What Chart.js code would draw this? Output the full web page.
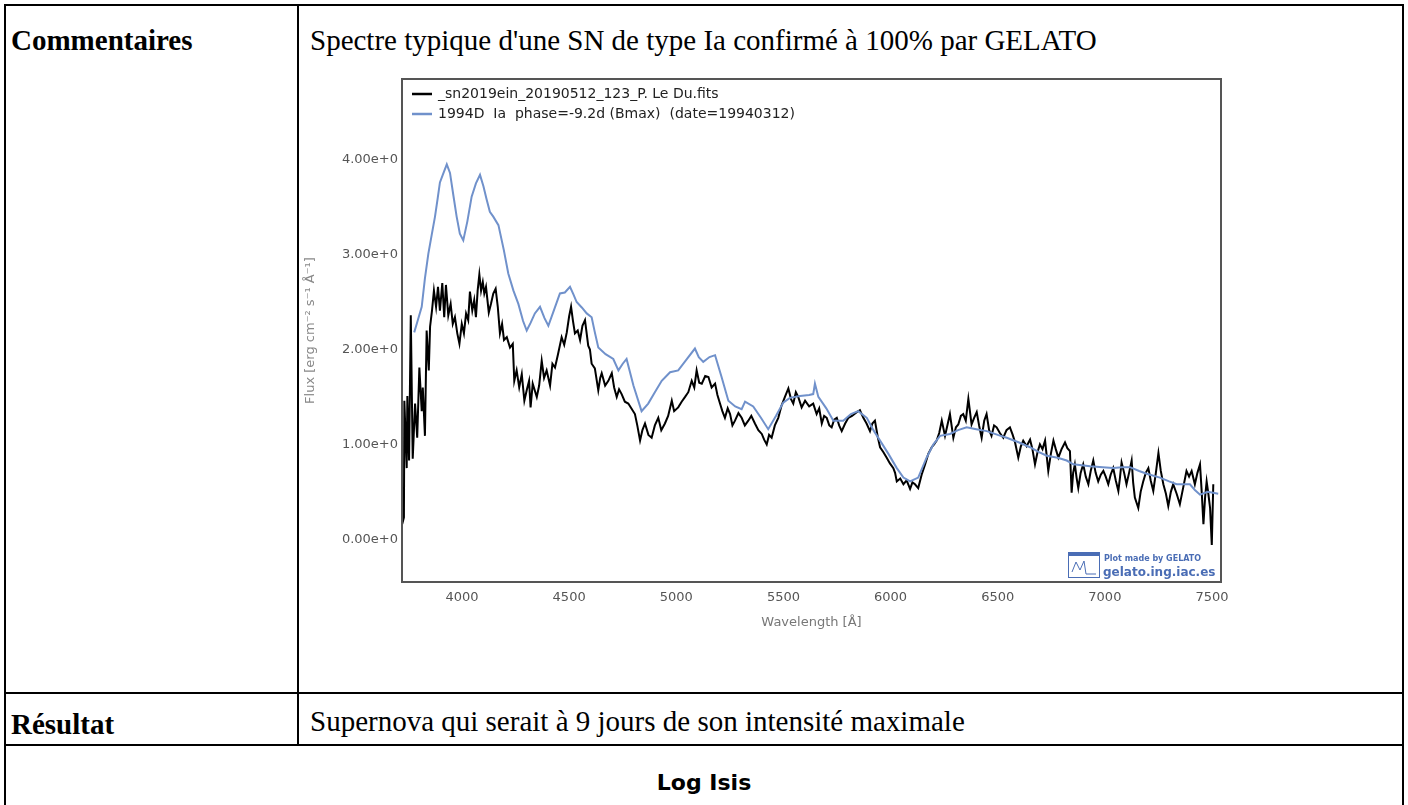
<!DOCTYPE html>
<html>
<head>
<meta charset="utf-8">
<script src="https://cdn.jsdelivr.net/npm/chart.js@4.4.1/dist/chart.umd.min.js"></script>
<style>
  html, body { margin: 0; padding: 0; background: #fff; }
  body { width: 1408px; height: 805px; position: relative; overflow: hidden; font-family: "Liberation Serif", "Times New Roman", serif; }
  .line { position: absolute; background: #000; }
  .txt { position: absolute; font-size: 29px; line-height: 29px; white-space: nowrap; color: #000; }
  .bold { font-weight: bold; }
  #logIsis { position: absolute; left: 4px; width: 1400px; top: 770px; text-align: center; font-family: "DejaVu Sans", sans-serif; font-weight: bold; font-size: 22px; line-height: 26px; }
  #chartBox { position: absolute; left: 300px; top: 70px; width: 930px; height: 570px; }
</style>
</head>
<body>
  <!-- table lines -->
  <div class="line" style="left:4px; top:4px; width:1400px; height:2px;"></div>
  <div class="line" style="left:4px; top:4px; width:2px; height:801px;"></div>
  <div class="line" style="left:1402px; top:4px; width:2px; height:801px;"></div>
  <div class="line" style="left:297px; top:4px; width:2px; height:741px;"></div>
  <div class="line" style="left:4px; top:692px; width:1400px; height:2px;"></div>
  <div class="line" style="left:4px; top:744px; width:1400px; height:2px;"></div>

  <div class="txt bold" style="left:11px; top:26px;">Commentaires</div>
  <div class="txt" style="left:310px; top:26px;">Spectre typique d'une SN de type Ia confirmé à 100% par GELATO</div>
  <div class="txt bold" style="left:11px; top:710px;">Résultat</div>
  <div class="txt" style="left:310px; top:707px;">Supernova qui serait à 9 jours de son intensité maximale</div>
  <div id="logIsis">Log Isis</div>

  <div id="chartBox"><canvas id="spectrum"></canvas></div>

<script>
// series labels (legend)
const seriesLabels = [
    '_sn2019ein_20190512_123_P. Le Du.fits',
    '1994D  Ia  phase=-9.2d (Bmax)  (date=19940312)'
];

// observed spectrum (black)
const blackWave = [3721, 3729, 3731, 3742, 3745, 3753, 3761, 3770, 3781, 3791, 3801, 3812, 3817, 3827, 3835, 3845,
    3851, 3860, 3869, 3879, 3888, 3897, 3908, 3917, 3925, 3936, 3947, 3957, 3967, 3978, 3988, 3999,
    4009, 4019, 4029, 4037, 4048, 4057, 4065, 4073, 4081, 4089, 4097, 4104, 4112, 4125, 4135, 4146,
    4157, 4167, 4177, 4187, 4196, 4209, 4224, 4237, 4244, 4255, 4267, 4279, 4291, 4302, 4313, 4320,
    4330, 4349, 4360, 4372, 4383, 4395, 4411, 4422, 4434, 4448, 4465, 4477, 4489, 4500, 4509, 4518,
    4527, 4540, 4551, 4562, 4574, 4589, 4597, 4605, 4620, 4636, 4645, 4652, 4668, 4683, 4699, 4710,
    4722, 4733, 4745, 4760, 4776, 4790, 4807, 4818, 4831, 4842, 4854, 4870, 4885, 4900, 4916, 4930,
    4947, 4962, 4979, 4990, 5009, 5025, 5041, 5056, 5072, 5084, 5095, 5107, 5119, 5135, 5150, 5165,
    5181, 5192, 5204, 5215, 5227, 5240, 5251, 5262, 5274, 5290, 5305, 5320, 5336, 5350, 5367, 5383,
    5399, 5410, 5422, 5433, 5445, 5460, 5476, 5490, 5507, 5523, 5535, 5546, 5558, 5569, 5585, 5601,
    5620, 5639, 5655, 5667, 5679, 5690, 5702, 5714, 5725, 5737, 5749, 5760, 5772, 5788, 5803, 5820,
    5842, 5857, 5873, 5888, 5904, 5915, 5927, 5940, 5951, 5966, 5982, 5997, 6013, 6021, 6029, 6045,
    6060, 6075, 6091, 6102, 6114, 6129, 6145, 6161, 6176, 6192, 6203, 6215, 6227, 6239, 6254, 6265,
    6277, 6293, 6305, 6316, 6328, 6339, 6351, 6363, 6378, 6390, 6402, 6413, 6425, 6437, 6448, 6460,
    6471, 6483, 6495, 6510, 6526, 6541, 6557, 6570, 6581, 6596, 6608, 6619, 6635, 6651, 6662, 6674,
    6686, 6697, 6709, 6721, 6736, 6748, 6760, 6771, 6783, 6798, 6814, 6825, 6837, 6845, 6852, 6860,
    6868, 6876, 6887, 6899, 6911, 6923, 6934, 6946, 6957, 6969, 6981, 6993, 7004, 7016, 7027, 7039,
    7051, 7063, 7070, 7078, 7090, 7101, 7113, 7125, 7132, 7140, 7156, 7167, 7179, 7191, 7203, 7214,
    7226, 7238, 7250, 7261, 7273, 7285, 7296, 7308, 7319, 7335, 7350, 7366, 7381, 7393, 7405, 7420,
    7432, 7444, 7452, 7460, 7468, 7475, 7483, 7491, 7499, 7506];
const blackFlux = [0.16, 0.23, 1.46, 0.75, 1.51, 0.83, 2.36, 0.85, 1.43, 1.07, 1.81, 1.35, 1.60, 1.09, 2.20, 1.78,
    2.24, 2.41, 2.62, 2.45, 2.66, 2.41, 2.70, 2.34, 2.68, 2.36, 2.48, 2.27, 2.34, 2.17, 2.06, 2.27,
    2.17, 2.38, 2.31, 2.61, 2.41, 2.52, 2.34, 2.62, 2.79, 2.62, 2.71, 2.59, 2.66, 2.39, 2.48, 2.59,
    2.64, 2.45, 2.17, 2.27, 2.10, 2.13, 2.02, 2.06, 1.67, 1.78, 1.60, 1.74, 1.46, 1.57, 1.67, 1.39,
    1.64, 1.50, 1.62, 1.88, 1.70, 1.78, 1.62, 1.85, 1.81, 1.95, 2.13, 2.05, 2.18, 2.35, 2.45, 2.30,
    2.17, 2.20, 2.10, 2.25, 2.31, 2.04, 2.00, 1.85, 1.80, 1.57, 1.70, 1.75, 1.62, 1.67, 1.75, 1.60,
    1.50, 1.58, 1.53, 1.45, 1.43, 1.38, 1.32, 1.20, 1.04, 1.15, 1.22, 1.10, 1.07, 1.20, 1.28, 1.15,
    1.22, 1.30, 1.46, 1.35, 1.39, 1.45, 1.50, 1.55, 1.67, 1.60, 1.78, 1.65, 1.64, 1.72, 1.71, 1.60,
    1.64, 1.52, 1.43, 1.35, 1.28, 1.38, 1.32, 1.20, 1.25, 1.33, 1.28, 1.20, 1.25, 1.30, 1.22, 1.15,
    1.11, 1.05, 1.00, 1.10, 1.07, 1.20, 1.28, 1.40, 1.50, 1.59, 1.48, 1.43, 1.55, 1.50, 1.39, 1.46,
    1.40, 1.43, 1.32, 1.38, 1.22, 1.30, 1.28, 1.20, 1.18, 1.26, 1.28, 1.20, 1.14, 1.22, 1.28, 1.30,
    1.34, 1.36, 1.28, 1.22, 1.14, 1.22, 1.25, 1.08, 0.97, 0.92, 0.86, 0.80, 0.75, 0.70, 0.61, 0.64,
    0.58, 0.62, 0.53, 0.60, 0.58, 0.54, 0.68, 0.79, 0.90, 0.97, 1.00, 1.04, 1.12, 1.25, 1.09, 1.20,
    1.32, 1.07, 1.18, 1.21, 1.30, 1.32, 1.25, 1.48, 1.21, 1.28, 1.34, 1.20, 1.07, 1.25, 1.32, 1.15,
    1.09, 1.20, 1.18, 1.12, 1.07, 1.15, 1.18, 1.10, 1.02, 0.86, 0.98, 1.04, 0.98, 1.05, 0.95, 0.79,
    0.92, 1.00, 0.95, 1.04, 0.72, 0.90, 1.04, 0.95, 0.86, 0.95, 1.02, 0.96, 0.93, 0.49, 0.70, 0.79,
    0.65, 0.54, 0.70, 0.79, 0.66, 0.58, 0.72, 0.83, 0.70, 0.61, 0.68, 0.72, 0.66, 0.58, 0.68, 0.75,
    0.62, 0.51, 0.64, 0.81, 0.70, 0.58, 0.70, 0.83, 0.60, 0.44, 0.33, 0.50, 0.61, 0.70, 0.75, 0.62,
    0.51, 0.70, 0.91, 0.72, 0.58, 0.48, 0.35, 0.50, 0.58, 0.48, 0.37, 0.55, 0.72, 0.66, 0.72, 0.58,
    0.70, 0.79, 0.50, 0.16, 0.45, 0.61, 0.48, 0.33, -0.06, 0.58];

// template SN 1994D (blue)
const blueWave = [3777, 3790, 3812, 3827, 3843, 3858, 3874, 3887, 3897, 3912, 3929, 3944, 3960, 3975, 3990, 4006,
    4025, 4045, 4065, 4084, 4100, 4115, 4130, 4146, 4170, 4195, 4216, 4240, 4263, 4285, 4302, 4320,
    4340, 4364, 4385, 4403, 4430, 4457, 4480, 4504, 4520, 4535, 4560, 4582, 4605, 4620, 4636, 4670,
    4706, 4730, 4750, 4768, 4800, 4838, 4869, 4900, 4932, 4971, 5009, 5050, 5087, 5105, 5126, 5155,
    5181, 5210, 5243, 5275, 5305, 5321, 5359, 5395, 5429, 5465, 5499, 5530, 5577, 5620, 5639, 5647,
    5663, 5700, 5733, 5779, 5815, 5849, 5889, 5920, 5951, 5990, 6029, 6060, 6091, 6129, 6168, 6200,
    6231, 6277, 6315, 6355, 6400, 6449, 6500, 6542, 6600, 6651, 6690, 6729, 6780, 6822, 6853, 6931,
    6990, 7039, 7080, 7117, 7160, 7195, 7257, 7300, 7335, 7397, 7420, 7444, 7480, 7529];
const blueFlux = [2.18, 2.28, 2.45, 2.75, 3.01, 3.20, 3.40, 3.60, 3.76, 3.85, 3.95, 3.86, 3.62, 3.40, 3.22, 3.15,
    3.35, 3.61, 3.75, 3.84, 3.72, 3.58, 3.45, 3.40, 3.31, 3.05, 2.80, 2.62, 2.48, 2.30, 2.20, 2.28,
    2.38, 2.45, 2.33, 2.25, 2.42, 2.59, 2.60, 2.66, 2.58, 2.50, 2.44, 2.38, 2.34, 2.18, 2.02, 1.95,
    1.90, 1.78, 1.85, 1.90, 1.62, 1.35, 1.43, 1.55, 1.67, 1.76, 1.78, 1.90, 2.01, 1.92, 1.87, 1.92,
    1.94, 1.72, 1.46, 1.40, 1.37, 1.45, 1.40, 1.28, 1.16, 1.30, 1.44, 1.49, 1.51, 1.52, 1.53, 1.64,
    1.50, 1.38, 1.25, 1.25, 1.32, 1.35, 1.28, 1.15, 1.04, 0.90, 0.75, 0.65, 0.61, 0.65, 0.86, 1.00,
    1.09, 1.11, 1.15, 1.18, 1.16, 1.14, 1.10, 1.07, 1.02, 0.97, 0.92, 0.88, 0.86, 0.83, 0.79, 0.77,
    0.76, 0.75, 0.76, 0.76, 0.72, 0.69, 0.65, 0.61, 0.58, 0.58, 0.52, 0.47, 0.50, 0.48];

// axes
const xTickValues = [4000, 4500, 5000, 5500, 6000, 6500, 7000, 7500];
const yTickValues = [0, 1, 2, 3, 4];
const yTickLabels = ['0.00e+0', '1.00e+0', '2.00e+0', '3.00e+0', '4.00e+0'];

const BLUE = '#7091cb';
const TICK_FONT = { family: 'DejaVu Sans', size: 13 };

function toPoints(xs, ys) {
    return xs.map((x, i) => ({ x: x, y: ys[i] }));
}

// frame around the plot area, legend inside it, and the GELATO credit
const framePlugin = {
    id: 'frame',
    afterDraw(chart) {
        const { ctx, chartArea: a } = chart;
        ctx.save();
        ctx.strokeStyle = '#555';
        ctx.lineWidth = 2;
        ctx.strokeRect(a.left, a.top, a.right - a.left, a.bottom - a.top);

        // legend
        ctx.font = '14px "DejaVu Sans"';
        ctx.textBaseline = 'middle';
        chart.data.datasets.forEach((ds, i) => {
            const y = a.top + 15 + i * 20;
            ctx.strokeStyle = ds.borderColor;
            ctx.lineWidth = 2.5;
            ctx.beginPath();
            ctx.moveTo(a.left + 10, y);
            ctx.lineTo(a.left + 30, y);
            ctx.stroke();
            ctx.fillStyle = '#222';
            ctx.fillText(ds.label, a.left + 36, y);
        });

        // credit box bottom right
        const bx = a.right - 153, by = a.bottom - 30;
        ctx.strokeStyle = '#4a6db5';
        ctx.lineWidth = 1;
        ctx.strokeRect(bx + 0.5, by + 0.5, 31, 25);
        ctx.fillStyle = '#4a6db5';
        ctx.fillRect(bx, by, 32, 4);
        ctx.beginPath();
        ctx.moveTo(bx + 4, by + 20);
        ctx.lineTo(bx + 8, by + 10);
        ctx.lineTo(bx + 12, by + 18);
        ctx.lineTo(bx + 16, by + 9);
        ctx.lineTo(bx + 18, by + 22);
        ctx.lineTo(bx + 28, by + 22);
        ctx.stroke();
        ctx.textBaseline = 'alphabetic';
        ctx.font = 'bold 8px "DejaVu Sans"';
        ctx.fillText('Plot made by GELATO', bx + 36, by + 9);
        ctx.font = 'bold 12px "DejaVu Sans"';
        ctx.fillText('gelato.ing.iac.es', bx + 35, by + 24);
        ctx.restore();
    }
};

const ctx = document.getElementById('spectrum').getContext('2d');
new Chart(ctx, {
    type: 'line',
    data: {
        datasets: [{
            label: seriesLabels[0],
            data: toPoints(blackWave, blackFlux),
            borderColor: '#000',
            borderWidth: 2,
            pointRadius: 0,
            tension: 0,
            order: 1
        }, {
            label: seriesLabels[1],
            data: toPoints(blueWave, blueFlux),
            borderColor: BLUE,
            borderWidth: 2,
            pointRadius: 0,
            tension: 0,
            order: 0
        }]
    },
    options: {
        responsive: true,
        maintainAspectRatio: false,
        animation: false,
        layout: { padding: { top: 9, right: 9, left: 0, bottom: 0 } },
        plugins: { legend: { display: false }, tooltip: { enabled: false } },
        scales: {
            x: {
                type: 'linear',
                min: 3720,
                max: 7542,
                grid: { display: false, drawTicks: false },
                border: { display: false },
                afterBuildTicks: s => { s.ticks = xTickValues.map(v => ({ value: v })); },
                afterFit: s => { s.height = 58; s.paddingLeft = 0; s.paddingRight = 0; },
                ticks: { font: TICK_FONT, color: '#555', padding: 8, maxRotation: 0, callback: v => String(v) },
                title: { display: true, text: 'Wavelength [Å]', color: '#777', font: TICK_FONT, padding: { top: 0, bottom: 10 } }
            },
            y: {
                min: -0.45,
                max: 4.85,
                grid: { display: false, drawTicks: false },
                border: { display: false },
                afterBuildTicks: s => { s.ticks = yTickValues.map(v => ({ value: v })); },
                afterFit: s => { s.width = 102; s.paddingTop = 0; s.paddingBottom = 0; },
                ticks: { font: TICK_FONT, color: '#555', padding: 4, callback: v => yTickLabels[yTickValues.indexOf(v)] },
                title: { display: true, text: 'Flux [erg cm⁻² s⁻¹ Å⁻¹]', color: '#888', font: TICK_FONT, padding: { top: 3, bottom: 0 } }
            }
        }
    },
    plugins: [framePlugin]
});
</script>
</body>
</html>
